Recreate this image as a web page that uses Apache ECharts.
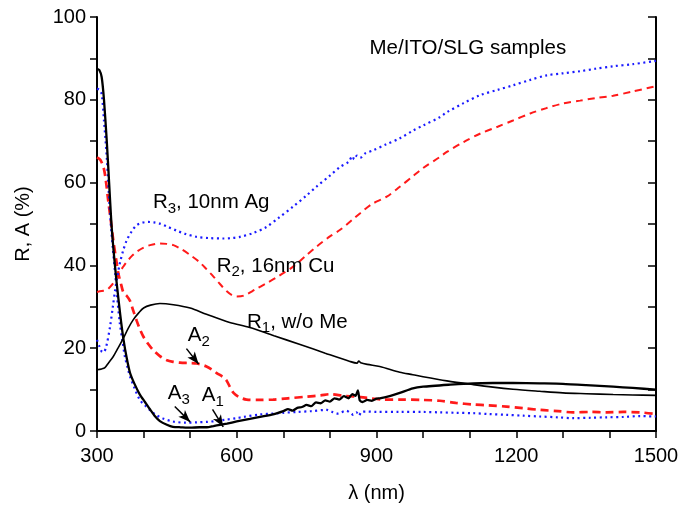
<!DOCTYPE html>
<html>
<head>
<meta charset="utf-8">
<script src="https://cdn.jsdelivr.net/npm/echarts@6/dist/echarts.min.js"></script>
<style>
html,body{margin:0;padding:0;background:#fff;}
#chart{width:691px;height:509px;}
</style>
</head>
<body>
<div id="chart"></div>
<script>
// ---- data ----
const xTicks = [300, 600, 900, 1200, 1500];
const yTicks = [0, 20, 40, 60, 80, 100];

const wlR1 = [300,310,317,325,335,345,357,367,378,390,400,415,435,464,500,535,585,628,680,736,790,843,858,862,866,880,907,950,978,1000,1051,1108,1150,1193,1250,1300,1350,1408,1450,1500];
const R1   = [14.8,15.0,15.3,16.5,18.0,20.0,22.5,24.8,26.9,28.6,29.7,30.4,30.8,30.5,29.7,28.2,26.2,25.0,23.0,20.9,18.8,16.8,16.4,16.9,16.5,16.1,15.6,14.2,13.6,13.1,12.1,11.2,10.6,10.1,9.6,9.2,9.0,8.8,8.7,8.6];

const wlA1 = [300,305,310,315,321,326,331,336,342,350,357,364,371,380,392,403,414,425,435,450,463,480,500,520,536,550,564,579,600,628,650,678,700,710,720,730,740,750,760,770,780,790,800,810,820,830,840,848,855,860,864,870,880,890,900,907,930,950,978,1000,1058,1087,1150,1193,1250,1300,1350,1408,1450,1500];
const A1   = [87.5,87.2,85.5,80.0,70.0,60.0,50.0,43.0,36.0,28.0,22.0,17.5,14.0,11.5,8.8,7.0,5.2,3.5,2.4,1.5,1.0,0.9,0.8,0.9,0.9,1.2,1.5,1.8,2.3,2.9,3.4,4.0,4.8,5.3,4.9,5.6,5.8,6.3,6.0,6.9,6.7,7.4,7.1,7.9,7.6,8.4,7.9,8.9,8.5,9.8,7.4,7.0,7.5,7.3,7.8,7.9,8.5,9.2,10.3,10.7,11.2,11.4,11.6,11.6,11.5,11.4,11.1,10.7,10.4,10.0];

const wlR2 = [300,310,321,328,335,342,349,357,364,375,385,400,414,435,450,464,480,500,520,535,550,564,578,590,600,615,640,664,690,721,750,771,800,822,850,865,890,922,950,979,1000,1036,1051,1087,1122,1160,1193,1230,1265,1300,1337,1370,1408,1450,1500];
const R2   = [33.6,33.8,34.1,34.8,35.7,37.0,38.5,39.8,40.9,42.3,43.3,44.3,44.9,45.3,45.2,44.9,44.0,42.5,40.8,39.1,37.3,35.5,33.8,32.8,32.5,32.7,34.2,35.7,37.4,39.7,42.5,44.5,47.0,48.6,51.2,52.6,54.8,56.6,59.0,61.6,63.5,66.2,67.4,69.8,71.8,73.5,75.0,76.7,78.0,79.1,79.8,80.4,81.0,82.0,83.3];

const wlA2 = [300,307,314,319,324,330,335,341,346,352,357,364,371,378,385,392,400,410,421,435,450,464,478,500,514,525,535,546,557,571,578,586,593,605,621,650,678,710,750,780,800,830,857,880,914,950,1000,1036,1070,1108,1140,1179,1215,1251,1290,1322,1360,1394,1430,1466,1500];
const A2   = [66.1,65.5,63.7,60.5,55.7,50.5,46.0,41.5,38.0,35.3,33.4,32.6,31.4,29.0,26.7,24.6,22.7,21.0,19.5,18.1,17.1,16.7,16.5,16.4,16.3,16.0,15.6,14.9,14.0,13.0,12.2,10.5,9.2,8.2,7.6,7.5,7.6,7.9,8.3,8.6,8.9,8.5,8.3,8.0,7.6,7.6,7.5,7.3,6.8,6.4,6.2,5.9,5.5,5.1,4.8,4.5,4.6,4.5,4.6,4.5,4.1];

const wlR3 = [300,305,310,314,320,328,334,339,344,349,356,364,375,385,397,410,422,435,450,471,490,514,540,571,590,607,635,664,690,721,750,771,800,822,840,848,852,858,865,875,893,920,950,979,1000,1036,1051,1087,1122,1160,1193,1230,1265,1300,1337,1370,1408,1450,1500];
const R3   = [22.0,20.5,19.2,19.0,20.5,25.2,30.0,34.1,37.5,40.5,43.5,46.1,48.3,49.7,50.3,50.5,50.4,50.1,49.4,48.4,47.6,46.9,46.6,46.5,46.6,46.9,47.8,49.3,51.5,54.2,56.9,59.0,61.7,63.8,65.0,66.4,65.6,66.5,66.0,67.0,67.8,69.2,70.7,72.6,73.8,75.8,77.0,79.2,81.1,82.4,83.5,84.8,85.9,86.4,86.9,87.5,88.1,88.6,89.4];

const wlA3 = [300,305,310,315,321,328,334,339,344,349,355,360,366,371,380,392,403,414,428,442,463,490,515,536,555,575,600,614,650,678,700,730,760,793,805,815,822,835,845,850,857,862,868,879,900,950,1000,1036,1070,1108,1140,1179,1215,1251,1290,1322,1360,1394,1430,1466,1500];
const A3   = [82.7,82.4,81.4,75.0,66.0,52.5,44.0,38.0,31.5,26.0,21.5,17.9,15.2,13.1,10.5,7.5,6.2,5.0,3.8,3.0,2.3,2.0,2.1,2.2,2.4,2.7,3.1,3.4,4.0,4.2,4.4,4.6,4.8,5.1,4.6,4.2,4.4,4.9,4.3,3.9,4.5,3.7,4.6,4.7,4.6,4.6,4.6,4.5,4.4,4.3,4.1,3.9,3.7,3.5,3.3,3.1,3.2,3.3,3.4,3.6,3.5];

// annotation texts: [rich text, x (nm), y (%)] – left/middle anchored
const notes = [
  ['{n|Me/ITO/SLG samples}', 885, 92.5],
  ['{n|R}{s|3}{n|, 10nm Ag}', 420, 55.2],
  ['{n|R}{s|2}{n|, 16nm Cu}', 557, 39.8],
  ['{n|R}{s|1}{n|, w/o Me}', 622, 26.3],
  ['{n|A}{s|2}', 495, 23.0],
  ['{n|A}{s|3}', 452, 9.0],
  ['{n|A}{s|1}', 525, 8.6]
];
// annotation arrows: [x1, y1, x2, y2] in data units
const arrows = [
  [492, 19.9, 518, 16.2],
  [467, 5.9, 500, 2.2],
  [548, 5.2, 571, 1.0]
];

const zip = (xs, ys) => xs.map((x, i) => [x, ys[i]]);
const FONT = 'Liberation Sans, Arial, sans-serif';
const FS = 20;

const chart = echarts.init(document.getElementById('chart'), null, {renderer: 'canvas'});

const axisCommon = {
  axisLine: {show: true, lineStyle: {color: '#000', width: 2}},
  splitLine: {show: false}
};

const option = {
  animation: false,
  backgroundColor: '#fff',
  grid: {left: 97, right: 35, top: 17, bottom: 78, containLabel: false},
  xAxis: [
    Object.assign({
      type: 'value', position: 'bottom', min: 300, max: 1500, interval: 300,
      axisTick: {show: true, inside: false, length: 7, lineStyle: {color: '#000', width: 1.5}},
      minorTick: {show: true, splitNumber: 3, length: 6, lineStyle: {color: '#000', width: 1.5}},
      minorSplitLine: {show: false},
      axisLabel: {color: '#000', fontSize: FS, fontFamily: FONT, margin: 15,
        formatter: v => xTicks.includes(v) ? String(v) : ''},
      name: 'λ (nm)', nameLocation: 'middle', nameGap: 52,
      nameTextStyle: {color: '#000', fontSize: FS, fontFamily: FONT}
    }, axisCommon),
    Object.assign({
      type: 'value', position: 'top', min: 300, max: 1500, interval: 300,
      axisTick: {show: true, inside: true, length: 7, lineStyle: {color: '#000', width: 1.5}},
      minorTick: {show: true, splitNumber: 3, length: 7, lineStyle: {color: '#000', width: 1.5}},
      axisLabel: {show: false}
    }, axisCommon)
  ],
  yAxis: [
    Object.assign({
      type: 'value', position: 'left', min: 0, max: 100, interval: 20,
      axisTick: {show: true, inside: false, length: 7, lineStyle: {color: '#000', width: 1.5}},
      minorTick: {show: true, splitNumber: 2, length: 7, lineStyle: {color: '#000', width: 1.5}},
      axisLabel: {color: '#000', fontSize: FS, fontFamily: FONT, margin: 11,
        formatter: v => yTicks.includes(v) ? String(v) : ''},
      name: 'R, A (%)', nameLocation: 'middle', nameGap: 64, nameRotate: 90,
      nameTextStyle: {color: '#000', fontSize: FS, fontFamily: FONT}
    }, axisCommon),
    Object.assign({
      type: 'value', position: 'right', min: 0, max: 100, interval: 20,
      axisTick: {show: true, inside: true, length: 8, lineStyle: {color: '#000', width: 1.5}},
      minorTick: {show: true, splitNumber: 2, length: 8, lineStyle: {color: '#000', width: 1.5}},
      axisLabel: {show: false}
    }, axisCommon)
  ],
  series: [
    {name: 'R1', type: 'line', data: zip(wlR1, R1), showSymbol: false, smooth: 0.3,
      lineStyle: {color: '#000', width: 1.6}, z: 3},
    {name: 'A1', type: 'line', data: zip(wlA1, A1), showSymbol: false, smooth: 0.2,
      lineStyle: {color: '#000', width: 2.3}, z: 3,
      markLine: {silent: true, symbol: ['none', 'arrow'], symbolSize: [7, 12], label: {show: false},
        lineStyle: {color: '#000', width: 1.5, type: 'solid'},
        data: arrows.map(a => [{coord: [a[0], a[1]]}, {coord: [a[2], a[3]]}])}},
    {name: 'R2', type: 'line', data: zip(wlR2, R2), showSymbol: false, smooth: 0.3,
      lineStyle: {color: '#ff1a1a', width: 2, type: [7, 5]}, z: 2},
    {name: 'A2', type: 'line', data: zip(wlA2, A2), showSymbol: false, smooth: 0.3,
      lineStyle: {color: '#ff1a1a', width: 2.7, type: [8, 5]}, z: 2},
    {name: 'R3', type: 'line', data: zip(wlR3, R3), showSymbol: false, smooth: 0.3,
      lineStyle: {color: '#1a1aff', width: 2.2, type: [2, 3.5]}, z: 2},
    {name: 'A3', type: 'line', data: zip(wlA3, A3), showSymbol: false, smooth: 0.3,
      lineStyle: {color: '#1a1aff', width: 2.2, type: [2, 3.5]}, z: 2}
  ]
};
chart.setOption(option);

const rich = {
  n: {fontSize: 20.5, fontFamily: FONT, color: '#000'},
  s: {fontSize: 15, fontFamily: FONT, color: '#000', padding: [12, 0, 0, 0]}
};
const graphics = notes.map(n => {
  const p = chart.convertToPixel({xAxisIndex: 0, yAxisIndex: 0}, [n[1], n[2]]);
  return {type: 'text', x: p[0], y: p[1], z: 10,
    style: {text: n[0], rich: rich, align: 'left', verticalAlign: 'middle', fill: '#000'}};
});
chart.setOption({graphic: graphics});
</script>
</body>
</html>
